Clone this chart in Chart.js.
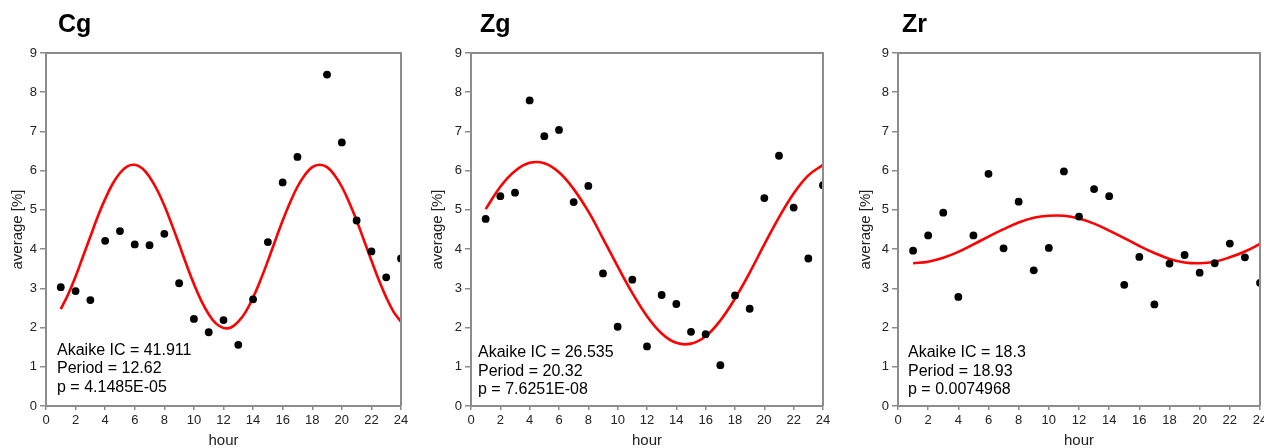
<!DOCTYPE html>
<html>
<head>
<meta charset="utf-8">
<script src="https://cdn.jsdelivr.net/npm/chart.js@4/dist/chart.umd.min.js"></script>
<style>
  html, body { margin: 0; padding: 0; background: #fff; }
  #wrap { position: relative; width: 1264px; height: 448px; background: #fff; overflow: hidden; }
  .panel { position: absolute; top: 0; height: 448px; }
</style>
</head>
<body>
<div id="wrap">
  <div class="panel" style="left:0px;width:412px"><canvas id="c1" width="412" height="448"></canvas></div>
  <div class="panel" style="left:420px;width:412px"><canvas id="c2" width="412" height="448"></canvas></div>
  <div class="panel" style="left:840px;width:424px"><canvas id="c3" width="424" height="448"></canvas></div>
</div>
<script>
// ---------------- data ----------------
const hours = [1,2,3,4,5,6,7,8,9,10,11,12,13,14,15,16,17,18,19,20,21,22,23,24];
const xTicks = [0,2,4,6,8,10,12,14,16,18,20,22,24];
const yTicks = [0,1,2,3,4,5,6,7,8,9];

// observed averages [%] (null = no point)
const cgValues = [3.03,2.93,2.70,4.21,4.46,4.12,4.10,4.39,3.13,2.22,1.88,2.19,1.56,2.72,4.18,5.70,6.35,null,8.45,6.72,4.73,3.94,3.28,3.76];
const zgValues = [4.77,5.35,5.44,7.79,6.88,7.04,5.20,5.61,3.38,2.02,3.22,1.52,2.83,2.60,1.89,1.83,1.04,2.82,2.48,5.30,6.38,5.06,3.76,5.63];
const zrValues = [3.96,4.35,4.93,2.78,4.35,5.92,4.02,5.21,3.46,4.03,5.98,4.83,5.53,5.35,3.09,3.80,2.59,3.63,3.85,3.40,3.64,4.14,3.79,3.14];

// fitted curves
const cgFitHours = [1,1.5,2,2.5,3,3.5,4,4.5,5,5.5,6,6.5,7,7.5,8,8.5,9,9.5,10,10.5,11,11.5,12,12.5,13,13.5,14,14.5,15,15.5,16,16.5,17,17.5,18,18.5,19,19.5,20,20.5,21,21.5,22,22.5,23,23.5,24];
const cgFit = [2.47,2.85,3.30,3.81,4.32,4.83,5.28,5.66,5.94,6.11,6.15,6.06,5.84,5.52,5.11,4.63,4.12,3.60,3.11,2.68,2.34,2.10,1.99,2.00,2.15,2.40,2.77,3.21,3.70,4.22,4.73,5.19,5.59,5.89,6.09,6.15,6.09,5.89,5.59,5.19,4.73,4.22,3.71,3.21,2.77,2.40,2.15];
const zgFit = [5.02,5.59,5.99,6.20,6.19,5.96,5.53,4.96,4.27,3.56,2.88,2.29,1.85,1.61,1.59,1.78,2.18,2.74,3.40,4.12,4.81,5.42,5.88,6.15];
const zrFit = [3.64,3.68,3.78,3.93,4.12,4.32,4.51,4.68,4.80,4.85,4.85,4.78,4.65,4.47,4.28,4.08,3.90,3.75,3.66,3.64,3.68,3.79,3.94,4.13];

const titles = ['Cg','Zg','Zr'];
const statLines = [
  ['Akaike IC = 41.911','Period = 12.62','p = 4.1485E-05'],
  ['Akaike IC = 26.535','Period = 20.32','p = 7.6251E-08'],
  ['Akaike IC = 18.3','Period = 18.93','p = 0.0074968']
];

// ---------------- drawing ----------------
const FONT = '"Liberation Sans", Arial, Helvetica, sans-serif';
const FRAME = '#8c8c8c';

function pts(xs, ys) { return xs.map((x, i) => ({x: x, y: ys[i]})); }

const framePlugin = {
  id: 'frame',
  afterDraw(chart, args, opts) {
    const {ctx, chartArea: a} = chart;
    ctx.save();
    ctx.strokeStyle = FRAME;
    ctx.lineWidth = 2;
    ctx.beginPath();
    ctx.moveTo(a.left, a.top);
    ctx.lineTo(a.right, a.top);
    ctx.lineTo(a.right, a.bottom);
    ctx.stroke();
    // panel title
    ctx.fillStyle = '#000';
    ctx.font = 'bold 25px ' + FONT;
    ctx.textBaseline = 'alphabetic';
    ctx.textAlign = 'left';
    ctx.fillText(opts.title, a.left + opts.titleDx, 32);
    // statistics text
    ctx.font = '16px ' + FONT;
    opts.lines.forEach((t, i) => {
      ctx.fillText(t, a.left + opts.textDx, a.bottom - opts.textDy + i * 18.7);
    });
    ctx.restore();
  }
};

const panels = [
  {id:'c1', values: cgValues, fitX: cgFitHours, fit: cgFit, yw: 46, padR: 11, ytp: 10, titleDx: 12, textDx: 11, textDy: 51.5},
  {id:'c2', values: zgValues, fitX: hours, fit: zgFit, yw: 51, padR: 9, ytp: 10, titleDx: 9, textDx: 7, textDy: 49},
  {id:'c3', values: zrValues, fitX: hours, fit: zrFit, yw: 58, padR: 4, ytp: 18.5, titleDx: 4, textDx: 10, textDy: 49}
];

panels.forEach((p, k) => {
  new Chart(document.getElementById(p.id), {
    type: 'scatter',
    data: {
      datasets: [
        {
          data: pts(hours, p.values),
          backgroundColor: '#000',
          borderWidth: 0,
          pointRadius: 3.9,
          order: 0
        },
        {
          data: pts(p.fitX, p.fit),
          showLine: true,
          borderColor: '#ff0000',
          borderWidth: 2.6,
          pointRadius: 0,
          tension: 0.4,
          fill: false,
          order: 1
        }
      ]
    },
    options: {
      responsive: false,
      devicePixelRatio: 1,
      animation: false,
      events: [],
      layout: { padding: { left: 0, right: p.padR, top: 53, bottom: 0 } },
      plugins: {
        legend: { display: false },
        tooltip: { enabled: false },
        frame: { title: titles[k], lines: statLines[k], titleDx: p.titleDx, textDx: p.textDx, textDy: p.textDy }
      },
      scales: {
        x: {
          type: 'linear',
          min: 0, max: 24,
          afterBuildTicks(s) { s.ticks = xTicks.map(v => ({value: v})); },
          afterFit(s) { s.height = 42; s.paddingLeft = 0; s.paddingRight = 0; },
          grid: { drawOnChartArea: false, drawTicks: true, tickLength: 4, color: FRAME, lineWidth: 1.5 },
          border: { display: true, color: FRAME, width: 2 },
          ticks: { autoSkip: false, maxRotation: 0, padding: 3, color: '#222', font: { family: FONT, size: 13 } },
          title: { display: true, text: 'hour', color: '#222', padding: { top: 0, bottom: 0 }, font: { family: FONT, size: 15, lineHeight: 1 } }
        },
        y: {
          type: 'linear',
          min: 0, max: 9,
          afterBuildTicks(s) { s.ticks = yTicks.map(v => ({value: v})); },
          afterFit(s) { s.width = p.yw; s.paddingTop = 0; s.paddingBottom = 0; },
          grid: { drawOnChartArea: false, drawTicks: true, tickLength: 6, color: FRAME, lineWidth: 1.5 },
          border: { display: true, color: FRAME, width: 2 },
          ticks: { padding: 3, color: '#222', font: { family: FONT, size: 13 } },
          title: { display: true, text: 'average [%]', color: '#222', padding: { top: p.ytp, bottom: 0 }, font: { family: FONT, size: 15, lineHeight: 1 } }
        }
      }
    },
    plugins: [framePlugin]
  });
});
</script>
</body>
</html>
